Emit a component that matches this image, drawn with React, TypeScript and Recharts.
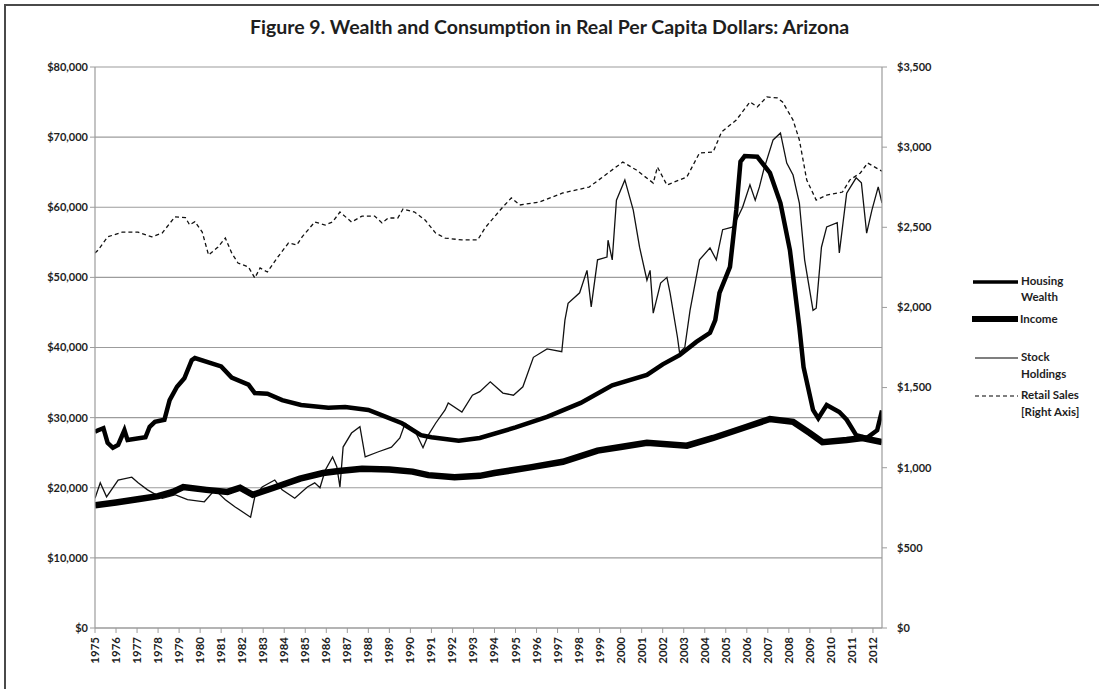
import { ComposedChart, Line, XAxis, YAxis, CartesianGrid } from 'recharts';

const FONT = 'Lato, "Open Sans", sans-serif';
const INK = '#1e1e1e';
const GRID = '#9c9c9c';

const YEARS = Array.from({ length: 38 }, (_, i) => 1975 + i);
const LEFT_TICKS = [0, 10000, 20000, 30000, 40000, 50000, 60000, 70000, 80000];
const RIGHT_TICKS = [0, 500, 1000, 1500, 2000, 2500, 3000, 3500];

// [year, real per capita $]
const housingWealth: [number, number][] = [
    [1975.0, 28000], [1975.15, 28200], [1975.4, 28500], [1975.6, 26400], [1975.85, 25700],
    [1976.1, 26100], [1976.4, 28200], [1976.55, 26800], [1977.4, 27200], [1977.6, 28700],
    [1977.85, 29400], [1978.3, 29700], [1978.55, 32500], [1978.9, 34400], [1979.25, 35600],
    [1979.6, 38200], [1979.75, 38500], [1981.0, 37300], [1981.5, 35700], [1982.3, 34700],
    [1982.6, 33500], [1983.2, 33400], [1983.9, 32500], [1984.8, 31800], [1986.1, 31400],
    [1986.9, 31500], [1988.0, 31100], [1988.6, 30400], [1989.6, 29200], [1990.5, 27500],
    [1991.0, 27200], [1992.3, 26700], [1993.3, 27100], [1995.0, 28600], [1996.5, 30100],
    [1998.1, 32100], [1999.6, 34600], [2001.25, 36100], [2002.0, 37600], [2002.8, 38900],
    [2003.6, 40800], [2004.25, 42100], [2004.5, 43900], [2004.7, 47800], [2005.2, 51500],
    [2005.5, 59600], [2005.7, 66500], [2005.9, 67300], [2006.5, 67200], [2007.1, 64900],
    [2007.6, 60600], [2008.05, 53900], [2008.5, 42900], [2008.7, 37200], [2009.15, 31100],
    [2009.4, 29900], [2009.8, 31800], [2010.4, 30800], [2010.75, 29700], [2011.2, 27500],
    [2011.7, 27100], [2012.2, 28200], [2012.43, 31000]
];

const income: [number, number][] = [
    [1975.0, 17500], [1976.0, 17900], [1977.1, 18400], [1978.0, 18800], [1978.7, 19400],
    [1979.2, 20100], [1980.3, 19700], [1981.3, 19400], [1981.9, 20000], [1982.5, 19000],
    [1983.5, 20000], [1984.75, 21300], [1985.85, 22100], [1986.6, 22400], [1987.7, 22700],
    [1989.0, 22600], [1990.1, 22300], [1990.85, 21800], [1992.1, 21500], [1993.3, 21700],
    [1994.0, 22100], [1995.7, 22900], [1997.25, 23700], [1998.9, 25300], [2000.0, 25800],
    [2001.25, 26400], [2003.15, 26000], [2004.4, 27100], [2006.0, 28700], [2007.1, 29800],
    [2008.2, 29400], [2009.0, 27800], [2009.6, 26500], [2010.75, 26800], [2011.5, 27100],
    [2012.43, 26500]
];

const stockHoldings: [number, number][] = [
    [1975.0, 18500], [1975.25, 20700], [1975.55, 18700], [1976.1, 21100], [1976.75, 21500],
    [1977.05, 20700], [1977.5, 19700], [1978.2, 18500], [1978.8, 19000], [1979.4, 18300],
    [1980.2, 18000], [1980.7, 19700], [1981.2, 18300], [1981.65, 17300], [1982.4, 15800],
    [1982.6, 18700], [1982.95, 20100], [1983.55, 21100], [1983.9, 19700], [1984.5, 18500],
    [1985.1, 20100], [1985.45, 20700], [1985.7, 20000], [1985.95, 22500], [1986.3, 24400],
    [1986.5, 23000], [1986.65, 20100], [1986.8, 25800], [1987.2, 27800], [1987.6, 28700],
    [1987.85, 24400], [1988.45, 25100], [1989.1, 25800], [1989.5, 27100], [1989.75, 29200],
    [1990.2, 28200], [1990.6, 25700], [1990.85, 27500], [1991.2, 29200], [1991.65, 31100],
    [1991.8, 32100], [1992.45, 30800], [1992.95, 33200], [1993.3, 33700], [1993.8, 35100],
    [1994.4, 33500], [1994.9, 33200], [1995.35, 34400], [1995.85, 38600], [1996.5, 39800],
    [1997.2, 39400], [1997.35, 43900], [1997.5, 46300], [1998.05, 47800], [1998.4, 51000],
    [1998.6, 45800], [1998.9, 52500], [1999.35, 52900], [1999.4, 55300], [1999.6, 52500],
    [1999.8, 61000], [2000.2, 63900], [2000.6, 59600], [2000.9, 54300], [2001.25, 49600],
    [2001.4, 51000], [2001.55, 44900], [2001.9, 49200], [2002.2, 50000], [2002.35, 47800],
    [2002.7, 41500], [2002.8, 39300], [2003.05, 40000], [2003.3, 45300], [2003.75, 52500],
    [2004.25, 54200], [2004.55, 52500], [2004.85, 56800], [2005.35, 57200], [2005.8, 60000],
    [2006.15, 63200], [2006.4, 61000], [2006.6, 62900], [2006.8, 65300], [2007.25, 69600],
    [2007.6, 70600], [2007.9, 66300], [2008.2, 64600], [2008.5, 60600], [2008.75, 52500],
    [2009.15, 45300], [2009.3, 45600], [2009.55, 54300], [2009.8, 57200], [2010.3, 57800],
    [2010.4, 53500], [2010.75, 62000], [2011.2, 64200], [2011.45, 63500], [2011.7, 56300],
    [2011.95, 59600], [2012.25, 62900], [2012.43, 60600]
];

// right axis
const retailSales: [number, number][] = [
    [1975.0, 2340], [1975.15, 2358], [1975.6, 2440], [1976.3, 2470], [1977.05, 2470],
    [1977.7, 2440], [1978.2, 2465], [1978.8, 2565], [1979.3, 2560], [1979.5, 2515],
    [1979.75, 2535], [1980.1, 2470], [1980.4, 2327], [1980.85, 2377], [1981.2, 2433],
    [1981.5, 2340], [1981.8, 2277], [1982.3, 2252], [1982.6, 2184], [1982.85, 2246],
    [1983.2, 2221], [1983.7, 2315], [1984.2, 2402], [1984.6, 2390], [1984.85, 2440],
    [1985.45, 2533], [1985.95, 2514], [1986.3, 2533], [1986.65, 2595], [1987.2, 2533],
    [1987.7, 2570], [1988.3, 2570], [1988.65, 2527], [1988.95, 2558], [1989.4, 2558],
    [1989.65, 2614], [1990.2, 2595], [1990.7, 2545], [1991.2, 2464], [1991.65, 2433],
    [1992.45, 2421], [1993.2, 2421], [1993.55, 2496], [1993.95, 2558], [1994.4, 2627],
    [1994.8, 2683], [1995.2, 2639], [1996.15, 2658], [1997.25, 2714], [1998.5, 2751],
    [1999.15, 2814], [2000.1, 2907], [2000.75, 2857], [2001.55, 2776], [2001.75, 2876],
    [2002.2, 2764], [2003.15, 2814], [2003.75, 2964], [2004.4, 2970], [2004.8, 3095],
    [2005.5, 3169], [2006.15, 3282], [2006.5, 3251], [2006.95, 3313], [2007.45, 3307],
    [2007.7, 3282], [2008.2, 3169], [2008.5, 3045], [2008.85, 2795], [2009.3, 2670],
    [2009.8, 2701], [2010.55, 2720], [2010.9, 2795], [2011.4, 2839], [2011.75, 2901],
    [2012.43, 2850]
];

function buildRows() {
    const rows = new Map<number, Record<string, number>>();
    const add = (key: string, series: [number, number][]) => {
        series.forEach(([x, v]) => {
            const row = rows.get(x) || { x };
            row[key] = v;
            rows.set(x, row);
        });
    };
    add('housing', housingWealth);
    add('income', income);
    add('stock', stockHoldings);
    add('retail', retailSales);
    return Array.from(rows.values()).sort((a, b) => a.x - b.x);
}

const data = buildRows();

const money = (v: number) => '$' + v.toLocaleString('en-US');

const YearTick = (props: any) => {
    const { x, y, payload } = props;
    const ax = x + 4;
    const ay = y + 2;
    return (
        <text
            x={ax}
            y={ay}
            transform={`rotate(-90, ${ax}, ${ay})`}
            textAnchor="end"
            fontSize={11.5}
            fontWeight={700}
            fontFamily={FONT}
            fill={INK}
        >
            {payload.value}
        </text>
    );
};

export default function App() {
    const tickStyle = { fill: INK, fontSize: 11, fontWeight: 700, fontFamily: FONT };

    return (
        <div style={{ position: 'absolute', left: 0, top: 0, width: 1099, height: 689, overflow: 'hidden', background: '#fff', fontFamily: FONT }}>
            {/* frame */}
            <div style={{ position: 'absolute', left: 4, top: 4, width: 1200, height: 800, borderTop: '2px solid #4a4a4a', borderLeft: '2px solid #4a4a4a' }} />

            <div style={{ position: 'absolute', left: 0, top: 15, width: 1099, textAlign: 'center', fontSize: 19.5, fontWeight: 700, color: INK }}>
                Figure 9. Wealth and Consumption in Real Per Capita Dollars: Arizona
            </div>

            <div style={{ position: 'absolute', left: 0, top: 0 }}>
                <ComposedChart
                    width={1099}
                    height={689}
                    data={data}
                    margin={{ top: 67, right: 137, left: 8, bottom: 11 }}
                >
                    <CartesianGrid yAxisId="left" vertical={false} stroke={GRID} strokeWidth={1.2} />
                    <XAxis
                        dataKey="x"
                        type="number"
                        domain={[1975, 2012.43]}
                        ticks={YEARS}
                        interval={0}
                        allowDataOverflow
                        height={50}
                        tick={<YearTick />}
                        tickSize={5}
                        axisLine={{ stroke: GRID, strokeWidth: 1.2 }}
                        tickLine={{ stroke: GRID }}
                    />
                    <YAxis
                        yAxisId="left"
                        domain={[0, 80000]}
                        ticks={LEFT_TICKS}
                        interval={0}
                        width={87}
                        tickSize={5}
                        tickFormatter={money}
                        tick={tickStyle}
                        axisLine={{ stroke: GRID, strokeWidth: 1.2 }}
                        tickLine={{ stroke: GRID }}
                    />
                    <YAxis
                        yAxisId="right"
                        orientation="right"
                        domain={[0, 3500]}
                        ticks={RIGHT_TICKS}
                        interval={0}
                        width={80}
                        tickSize={5}
                        tickMargin={10}
                        tickFormatter={money}
                        tick={tickStyle}
                        axisLine={{ stroke: GRID, strokeWidth: 1.2 }}
                        tickLine={{ stroke: GRID }}
                    />
                    <Line yAxisId="right" dataKey="retail" type="linear" stroke="#111" strokeWidth={1.3} strokeDasharray="4 3" dot={false} connectNulls isAnimationActive={false} />
                    <Line yAxisId="left" dataKey="stock" type="linear" stroke="#111" strokeWidth={1.3} dot={false} connectNulls isAnimationActive={false} />
                    <Line yAxisId="left" dataKey="income" type="linear" stroke="#000" strokeWidth={6.5} dot={false} connectNulls isAnimationActive={false} />
                    <Line yAxisId="left" dataKey="housing" type="linear" stroke="#000" strokeWidth={4.5} dot={false} connectNulls isAnimationActive={false} />
                </ComposedChart>
            </div>

            {/* legend */}
            <svg width={139} height={170} style={{ position: 'absolute', left: 960, top: 260 }}>
                <g fontFamily={FONT} fontSize={11.5} fontWeight={700} fill={INK}>
                    <line x1={13} x2={58} y1={22} y2={22} stroke="#000" strokeWidth={3.5} />
                    <text x={61} y={22} dominantBaseline="middle">Housing</text>
                    <text x={61} y={38} dominantBaseline="middle">Wealth</text>

                    <line x1={12} x2={58} y1={59} y2={59} stroke="#000" strokeWidth={6} />
                    <text x={60} y={60} dominantBaseline="middle">Income</text>

                    <line x1={15} x2={58} y1={98} y2={98} stroke="#000" strokeWidth={1.2} />
                    <text x={61} y={98} dominantBaseline="middle">Stock</text>
                    <text x={61} y={115} dominantBaseline="middle">Holdings</text>

                    <line x1={15} x2={58} y1={136} y2={136} stroke="#000" strokeWidth={1.2} strokeDasharray="4 3" />
                    <text x={61} y={136} dominantBaseline="middle">Retail Sales</text>
                    <text x={61} y={153} dominantBaseline="middle">[Right Axis]</text>
                </g>
            </svg>
        </div>
    );
}
